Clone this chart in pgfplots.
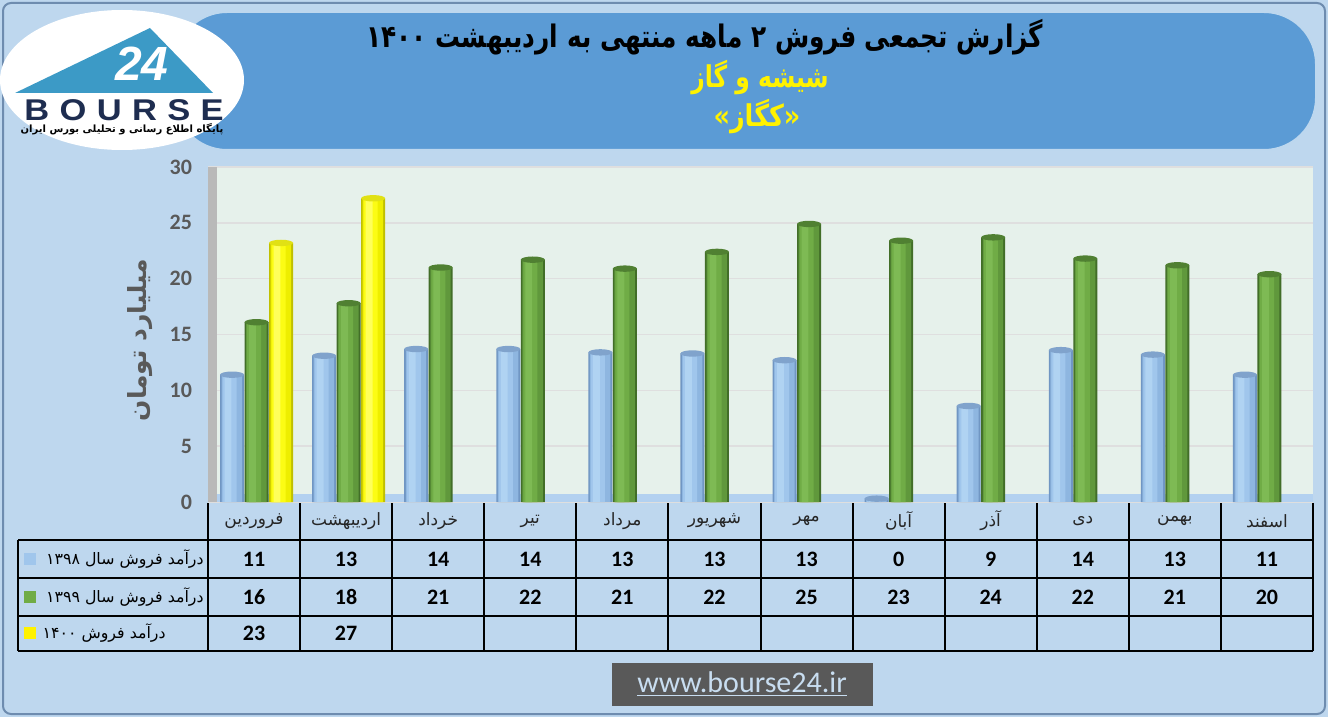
\documentclass[border=0pt]{standalone}
\usepackage{pgfplots}
\usepackage{pgfplotstable}
\pgfplotsset{compat=1.18}
\usepackage{fontspec}
\setmainfont{Carlito}
\newfontfamily\arabicfont[Script=Arabic]{DejaVu Sans}
\newfontfamily\logofont{Liberation Sans}
\TeXXeTstate=1
\definecolor{bgblue}{RGB}{190,215,238}
\definecolor{banner}{RGB}{91,155,213}
\definecolor{tgray}{RGB}{89,89,89}
\definecolor{plotbg}{RGB}{230,241,235}
\definecolor{logoblue}{RGB}{60,154,198}
\definecolor{navy}{RGB}{30,45,80}
% blue cylinder
\definecolor{bA}{RGB}{112,150,195}
\definecolor{bE}{RGB}{142,182,224}
\definecolor{bD}{RGB}{160,198,236}
\definecolor{bC}{RGB}{176,211,242}
\definecolor{bCap}{RGB}{128,163,204}
% green cylinder
\definecolor{gA}{RGB}{66,110,40}
\definecolor{gE}{RGB}{96,152,60}
\definecolor{gD}{RGB}{112,172,70}
\definecolor{gC}{RGB}{126,186,84}
\definecolor{gCap}{RGB}{80,128,50}
% yellow cylinder
\definecolor{yA}{RGB}{192,192,0}
\definecolor{yE}{RGB}{238,238,0}
\definecolor{yD}{RGB}{252,252,20}
\definecolor{yC}{RGB}{255,255,90}
\definecolor{yCap}{RGB}{225,225,20}
\pgfdeclareplotmark{cap}{\pgfpathellipse{\pgfpointorigin}{\pgfqpoint{6pt}{0pt}}{\pgfqpoint{0pt}{1.6pt}}\pgfusepathqfill}
\pgfplotstableread{
x   a    b
0   11.4 16.1
1   13.1 17.8
2   13.7 21.0
3   13.7 21.7
4   13.4 20.9
5   13.3 22.4
6   12.7 24.9
7   0.3  23.4
8   8.6  23.7
9   13.6 21.8
10  13.2 21.2
11  11.4 20.4
}\datatab
\pgfplotstableread{
x   c
0   23.2
1   27.2
}\datatabc
% #1 table, #2 column, #3 shift, #4 edge, #5 mid, #6 light, #7 highlight, #8 cap
\newcommand\cyl[8]{%
  \addplot[ybar, bar width=12pt, bar shift={#3}, draw=none, fill=#4] table[x=x,y=#2] {#1};
  \addplot[ybar, bar width=10.2pt, bar shift={#3-0.1pt}, draw=none, fill=#5] table[x=x,y=#2] {#1};
  \addplot[ybar, bar width=7pt, bar shift={#3-1.2pt}, draw=none, fill=#6] table[x=x,y=#2] {#1};
  \addplot[ybar, bar width=3.4pt, bar shift={#3-2pt}, draw=none, fill=#7] table[x=x,y=#2] {#1};
  \addplot[only marks, mark=cap, mark options={fill=#8}, xshift=#3] table[x=x,y=#2] {#1};
}
\begin{document}
\begin{tikzpicture}
\begin{scope}[x=0.5pt,y=-0.5pt]
\path[use as bounding box] (0,0) rectangle (1328,717);
\fill[bgblue] (0,0) rectangle (1328,717);
\draw[line width=1pt, draw={rgb,255:red,110;green,140;blue,175}, rounded corners=4pt] (3,3) rectangle (1325,714);
% banner
\fill[banner, rounded corners=26pt] (175,12) rectangle (1316,150);
\draw[white!60!banner, line width=1pt, rounded corners=26pt] (175,12) rectangle (1316,150);
% logo
\fill[white] (122,80) ellipse [x radius=122, y radius=70];
\fill[logoblue] (15,93) -- (150,28) -- (213,93) -- cycle;
\node[inner sep=0pt, text=white, font=\logofont\bfseries\itshape\fontsize{24}{24}\selectfont] at (142,64) {24};
\node[inner sep=0pt, text=navy, font=\logofont\bfseries\fontsize{15}{15}\selectfont\addfontfeature{LetterSpace=30}, xscale=1.15] at (124,110) {BOURSE};
\node[inner sep=0pt, text=black, font=\arabicfont\bfseries\fontsize{5}{6}\selectfont] at (122,129) {\beginR پایگاه اطلاع رسانی و تحلیلی بورس ایران\endR};
% titles
\node[xscale=0.8, font=\arabicfont\bfseries\fontsize{15.5}{20}\selectfont, text=black] at (705,37) {\beginR گزارش تجمعی فروش ۲ ماهه منتهی به اردیبهشت \beginL۱۴۰۰\endL\endR};
\node[xscale=0.78, font=\arabicfont\bfseries\fontsize{15}{20}\selectfont, text=yellow] at (760,78) {\beginR شیشه و گاز\endR};
\node[xscale=0.85, font=\arabicfont\bfseries\fontsize{15}{20}\selectfont, text=yellow] at (757,117) {\beginR«کگاز»\endR};
% y label
\node[rotate=90, font=\arabicfont\bfseries\fontsize{12.5}{15}\selectfont, text=tgray] at (140,340) {\beginR میلیارد تومان\endR};
% table
\foreach \yy in {540,578,616,651} \draw[line width=1pt] (18,\yy) -- (1313,\yy);
\draw[line width=1pt] (18,540) -- (18,651);
\foreach \k in {0,...,12} \draw[line width=1pt] ({208+92.083*\k},503) -- ({208+92.083*\k},651);
\fill[bD] (24,553) rectangle (36,565);
\fill[gD] (24,591) rectangle (36,603);
\fill[yellow] (24,627) rectangle (36,639);
\node[inner sep=0pt, anchor=east, font=\arabicfont\fontsize{7.9}{10}\selectfont] at (204,559) {\beginR درآمد فروش سال \beginL۱۳۹۸\endL\endR};
\node[inner sep=0pt, anchor=east, font=\arabicfont\fontsize{7.9}{10}\selectfont] at (204,597) {\beginR درآمد فروش سال \beginL۱۳۹۹\endL\endR};
\node[inner sep=0pt, anchor=east, font=\arabicfont\fontsize{7.9}{10}\selectfont] at (166,633) {\beginR درآمد فروش \beginL۱۴۰۰\endL\endR};
\foreach \v [count=\i from 0] in {11,13,14,14,13,13,13,0,9,14,13,11}
  \node[font=\bfseries\fontsize{11}{12}\selectfont] at ({254+92.083*\i},559) {\v};
\foreach \v [count=\i from 0] in {16,18,21,22,21,22,25,23,24,22,21,20}
  \node[font=\bfseries\fontsize{11}{12}\selectfont] at ({254+92.083*\i},597) {\v};
\foreach \v [count=\i from 0] in {23,27}
  \node[font=\bfseries\fontsize{11}{12}\selectfont] at ({254+92.083*\i},633) {\v};
% website
\fill[tgray] (612,663) rectangle (873,706);
\node[text=bgblue!85!white, font=\fontsize{15}{16}\selectfont] at (742,684) {\underline{www.bourse24.ir}};
\end{scope}
\begin{axis}[
  at={(104pt,-251pt)}, anchor=south west,
  width=552.5pt, height=167.5pt, scale only axis,
  xmin=-0.5, xmax=11.5, ymin=0, ymax=30,
  axis line style={draw=none},
  axis background/.style={fill=plotbg},
  ytick={0,5,...,30},
  ymajorgrids, grid style={draw=white!75!gray, line width=0.8pt},
  major tick length=0pt,
  /pgf/number format/assume math mode=true,
  yticklabel style={font=\bfseries\fontsize{11}{11}\selectfont, text=tgray, xshift=-4.5pt},
  xtick={0,...,11},
  xticklabels={{\beginR فروردین\endR},{\beginR اردیبهشت\endR},{\beginR خرداد\endR},{\beginR تیر\endR},{\beginR مرداد\endR},{\beginR شهریور\endR},{\beginR مهر\endR},{\beginR آبان\endR},{\beginR آذر\endR},{\beginR دی\endR},{\beginR بهمن\endR},{\beginR اسفند\endR}},
  xticklabel style={font=\arabicfont\fontsize{8.5}{10}\selectfont, text=black!85, anchor=center, yshift=-9.5pt},
]
\fill[gray!55] (rel axis cs:0,0) rectangle ([xshift=4.5pt]rel axis cs:0,1);
\fill[bD!80!white] ([xshift=4.5pt]rel axis cs:0,0) rectangle ([yshift=4pt]rel axis cs:1,0);
\cyl{\datatab}{a}{-11pt}{bA}{bE}{bD}{bC}{bCap}
\cyl{\datatab}{b}{1.25pt}{gA}{gE}{gD}{gC}{gCap}
\cyl{\datatabc}{c}{13.5pt}{yA}{yE}{yD}{yC}{yCap}
\end{axis}
\end{tikzpicture}
\end{document}
